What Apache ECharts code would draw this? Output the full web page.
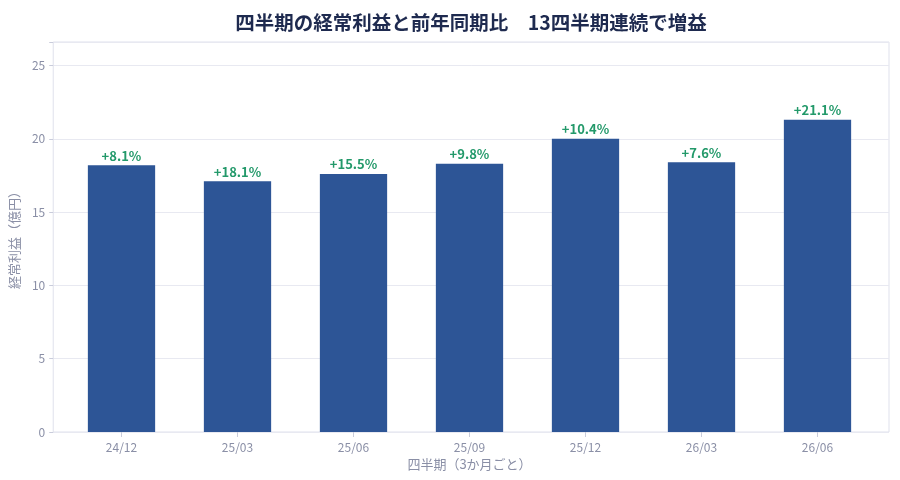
<!DOCTYPE html>
<html><head><meta charset="utf-8">
<script src="https://cdn.jsdelivr.net/npm/echarts@6/dist/echarts.min.js"></script>
<style>html,body{margin:0;padding:0;background:#fff}#c{width:900px;height:480px}</style>
</head><body><div id="c"></div>
<script>
const categories = ['24/12','25/03','25/06','25/09','25/12','26/03','26/06'];
const profit = [18.2, 17.1, 17.6, 18.3, 20.0, 18.4, 21.3];
const yoyLabels = ['+8.1%','+18.1%','+15.5%','+9.8%','+10.4%','+7.6%','+21.1%'];
const yTicks = [0,5,10,15,20,25];

const FONT = "'Noto Sans CJK JP', 'Noto Sans', sans-serif";
const chart = echarts.init(document.getElementById('c'));
chart.setOption({
  backgroundColor: '#ffffff',
  textStyle: {fontFamily: FONT},
  animation: false,
  title: {
    text: '四半期の経常利益と前年同期比　13四半期連続で増益',
    left: 466, top: 8, textAlign: 'center',
    textStyle: {fontFamily: FONT, fontSize: 19.5, fontWeight: 'bold', color: '#1e2a4f'}
  },
  grid: [
    {left: 50, right: 11, top: 42, bottom: 48, show: true, borderColor: '#dfe1ec', borderWidth: 1, backgroundColor: 'transparent'},
    {left: 63.5, right: 24.5, top: 42, bottom: 48}
  ],
  xAxis: [
    {gridIndex: 0, type: 'value', min: 0, max: 1, show: false},
    {gridIndex: 1, type: 'category', data: categories,
     axisLine: {show: false},
     axisTick: {show: true, alignWithLabel: true, length: 5, lineStyle: {color: '#c9ccdb'}},
     axisLabel: {color: '#8a8fa6', fontSize: 12, margin: 9, fontFamily: FONT},
     name: '四半期（3か月ごと）', nameLocation: 'middle', nameGap: 22,
     nameTextStyle: {color: '#8a8fa6', fontSize: 13, fontFamily: FONT}}
  ],
  yAxis: [
    {gridIndex: 0, type: 'value', min: 0, max: 26.6, interval: 5,
     axisLine: {show: false},
     axisTick: {show: true, length: 4, lineStyle: {color: '#c9ccdb'}},
     axisLabel: {color: '#8a8fa6', fontSize: 12, margin: 8, fontFamily: FONT,
       customValues: yTicks},
     splitLine: {show: true, lineStyle: {color: '#e8e9f1', width: 1}},
     name: '経常利益（億円）', nameLocation: 'middle', nameGap: 30,
     nameTextStyle: {color: '#8a8fa6', fontSize: 13, fontFamily: FONT}},
    {gridIndex: 1, type: 'value', min: 0, max: 26.6, interval: 5, show: false,
     splitLine: {show: false}}
  ],
  series: [{
    type: 'bar', xAxisIndex: 1, yAxisIndex: 1,
    data: profit, barWidth: '58%',
    itemStyle: {color: '#2d5596'},
    label: {show: true, position: 'top', distance: 3,
      formatter: p => yoyLabels[p.dataIndex],
      color: '#23996a', fontSize: 13, fontWeight: 'bold', fontFamily: FONT}
  }]
});
</script></body></html>
